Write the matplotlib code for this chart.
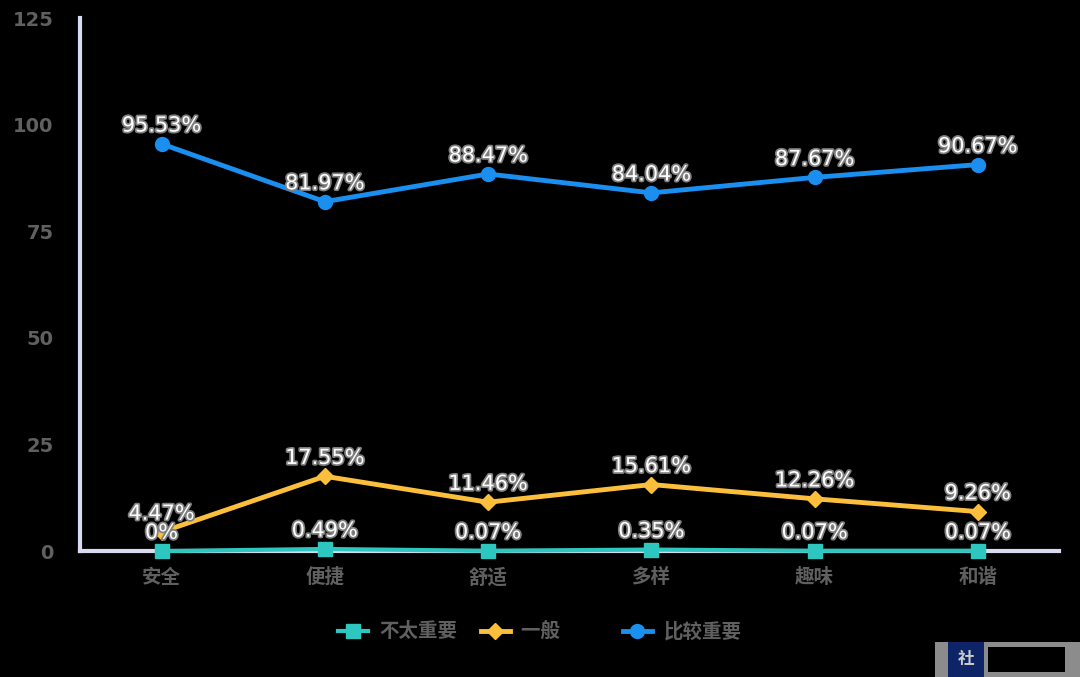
import matplotlib.pyplot as plt
import matplotlib.patheffects as pe
import numpy as np

plt.rcParams['font.family'] = ['Noto Sans CJK SC', 'DejaVu Sans']

categories = ["安全", "便捷", "舒适", "多样", "趣味", "和谐"]
not_important = [0, 0.49, 0.07, 0.35, 0.07, 0.07]
average = [4.47, 17.55, 11.46, 15.61, 12.26, 9.26]
important = [95.53, 81.97, 88.47, 84.04, 87.67, 90.67]
y_ticks = [0, 25, 50, 75, 100, 125]

series = [
    ("不太重要", not_important, "#2EC7C0", "s", 3.0),
    ("一般", average, "#FBBF3C", "D", 3.5),
    ("比较重要", important, "#1A8FF0", "o", 3.5),
]

fig = plt.figure(figsize=(10.8, 6.77), dpi=100, facecolor="black")
ax = fig.add_axes([0.074, 0.186, 0.907, 0.787], facecolor="black")

x = np.arange(len(categories))
for name, vals, color, marker, lw in series:
    # the legend in the original leaves a wider gap after the short label
    label = name + "\u3000\u3000" if name == "一般" else name
    ax.plot(x, vals, color=color, lw=lw, marker=marker, markersize=10 if marker != "D" else 8,
            label=label, zorder=3, clip_on=False)
    for xi, v in zip(x, vals):
        txt = f"{v:g}%"
        ax.annotate(txt, (xi, v), xytext=(0, 6), textcoords="offset points",
                    ha="center", va="bottom", fontsize=15, color="white",
                    family="DejaVu Sans", zorder=5,
                    path_effects=[pe.withStroke(linewidth=2.5, foreground="#7f7f7f")])

ax.set_xlim(-0.5, len(categories) - 0.5)
ax.set_ylim(0, 125)
ax.set_yticks(y_ticks)
ax.set_yticklabels([str(t) for t in y_ticks], family="DejaVu Sans", fontweight="bold")
ax.set_xticks(x)
ax.set_xticklabels(categories, fontweight="bold")
ax.tick_params(length=0, colors="#606060")
ax.tick_params(axis="x", labelsize=14, pad=12)
ax.tick_params(axis="y", labelsize=14, pad=19)
for s in ["top", "right"]:
    ax.spines[s].set_visible(False)
for s in ["left", "bottom"]:
    ax.spines[s].set_color("#D8DBEF")
    ax.spines[s].set_linewidth(3)

leg = fig.legend(loc="center", bbox_to_anchor=(0.5, 0.067), ncol=3, frameon=False,
                 fontsize=14, columnspacing=1.2, handlelength=1.5, handletextpad=0.6)
for t in leg.get_texts():
    t.set_color("#606060")
    t.set_fontweight("bold")

# watermark in the corner
fig.patches.append(plt.Rectangle((0.866, 0.0), 0.134, 0.052, transform=fig.transFigure,
                                 facecolor="#8c8c8c", edgecolor="none"))
fig.patches.append(plt.Rectangle((0.878, 0.0), 0.033, 0.052, transform=fig.transFigure,
                                 facecolor="#0d2466", edgecolor="none"))
fig.text(0.8945, 0.026, "社", color="#cccccc", fontsize=12, ha="center", va="center",
         fontweight="bold")
fig.patches.append(plt.Rectangle((0.915, 0.007), 0.071, 0.037, transform=fig.transFigure,
                                 facecolor="black", edgecolor="none"))

fig.savefig("out.png", dpi=100, facecolor="black")
